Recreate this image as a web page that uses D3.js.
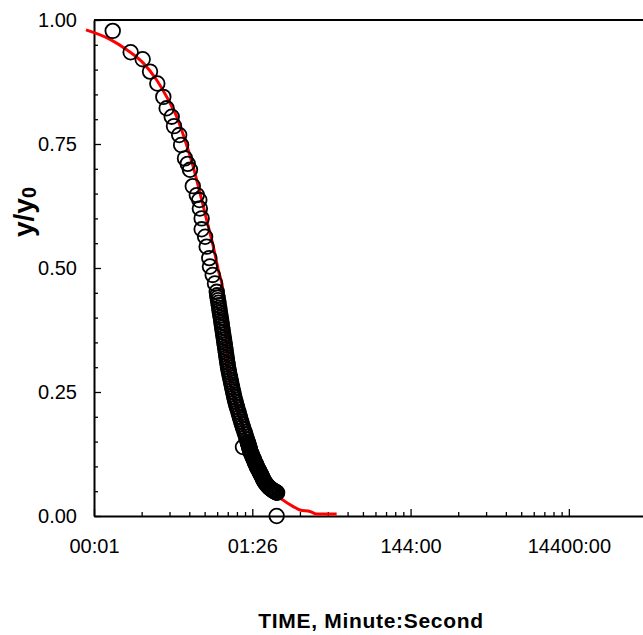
<!DOCTYPE html>
<html>
<head>
<meta charset="utf-8">
<title>y/y0 vs time</title>
<script src="https://d3js.org/d3.v7.min.js"></script>
<style>
  body { margin: 0; background: #fff; }
  svg { display: block; font-family: "Liberation Sans", Arial, sans-serif; }
</style>
</head>
<body>
<div id="chart"></div>
<script>
// time in seconds, value y/y0
var obsTime = [1.49, 2.51, 3.56, 4.41, 5.45, 6.49, 7.15, 8.29, 8.86, 10.3, 10.9, 12.2, 13.2, 14.1,
  15.3, 17.2, 18.5, 18.8, 19.8, 19.8, 21.9, 22.9, 24.7, 25.2, 27.3, 29.2, 30.7,
  31.1, 31.5, 31.9, 32.3, 32.6, 33.0, 33.3, 33.7, 34.1, 34.5, 34.9, 35.3, 35.6, 36.0, 36.4, 36.8,
  37.2, 37.6, 38.0, 38.4, 38.8, 39.2, 39.6, 40.0, 40.4, 40.9, 41.3, 41.8, 42.2, 42.6,
  43.2, 43.9, 44.5, 45.2, 45.9, 46.6, 47.3, 48.0, 48.8, 49.6, 50.4, 51.2, 52.1, 53.0, 54.1, 55.2,
  56.4, 57.6, 58.8, 60.0, 61.3, 62.6, 64.0, 65.5, 67.1, 68.8, 70.4, 72.0, 73.6, 75.3,
  76.1, 77, 77.9, 78.8, 79.5, 80.2, 81.1, 82, 83.2, 84.5, 85.7, 87, 88.5, 90, 91.2, 92.5, 94, 95.5,
  97, 98.5, 100.2, 102, 104, 106, 108, 110, 112, 114, 116, 118, 120, 122, 124.5, 127, 130, 133,
  136.5, 140, 144, 148, 152, 156, 160, 164, 168, 172, 175, 178, 65.9, 175.5];
var obsValue = [0.978, 0.935, 0.921, 0.896, 0.872, 0.845, 0.822, 0.805, 0.786, 0.768, 0.748, 0.721, 0.710, 0.698,
  0.665, 0.647, 0.637, 0.620, 0.600, 0.578, 0.563, 0.543, 0.520, 0.503, 0.486, 0.469, 0.452,
  0.445, 0.44, 0.435, 0.43, 0.425, 0.42, 0.415, 0.41, 0.405, 0.40, 0.395, 0.39, 0.385, 0.38, 0.375, 0.37,
  0.365, 0.36, 0.355, 0.35, 0.345, 0.34, 0.335, 0.33, 0.325, 0.32, 0.315, 0.31, 0.305, 0.30,
  0.295, 0.29, 0.285, 0.28, 0.275, 0.27, 0.265, 0.26, 0.255, 0.25, 0.245, 0.24, 0.235, 0.23, 0.225, 0.22,
  0.215, 0.21, 0.205, 0.20, 0.195, 0.19, 0.185, 0.18, 0.175, 0.17, 0.165, 0.16, 0.155, 0.15,
  0.1475, 0.145, 0.1425, 0.14, 0.1375, 0.135, 0.1325, 0.13, 0.1275, 0.125, 0.1225, 0.12, 0.1175, 0.115, 0.1125, 0.11, 0.1075, 0.105,
  0.1025, 0.10, 0.0975, 0.095, 0.0925, 0.09, 0.0875, 0.085, 0.0825, 0.08, 0.0775, 0.075, 0.0725, 0.07, 0.068, 0.066, 0.064, 0.062,
  0.06, 0.058, 0.0565, 0.055, 0.0535, 0.052, 0.051, 0.05, 0.049, 0.048, 0.0475, 0.047, 0.139, 0.0];

// fitted curve
var fitTime = [0.684, 1.38, 2.24, 3.63, 5.35, 7.16, 9.58, 12.2, 15.5, 18.9, 22.9, 27.8, 32.1, 37.2,
  42.6, 52.2, 69.9, 99, 125, 167, 203, 285, 346, 463, 563, 1006];
var fitValue = [0.98, 0.961, 0.94, 0.913, 0.879, 0.845, 0.805, 0.758, 0.704, 0.651, 0.597, 0.543, 0.496, 0.449,
  0.30, 0.234, 0.167, 0.099, 0.067, 0.045, 0.034, 0.019, 0.012, 0.009, 0.004, 0.004];

// axis ticks (seconds); 1e-5, 1e-3, 0.1, 10 days
var majorTicks = [0.864, 86.4, 8640, 864000];
var minorSteps = [4, 9, 16, 25, 36, 49, 64, 81];
var yMajor = [0, 0.25, 0.5, 0.75, 1.0];
var yMinor = [0.05, 0.1, 0.15, 0.2, 0.3, 0.35, 0.4, 0.45, 0.55, 0.6, 0.65, 0.7, 0.8, 0.85, 0.9, 0.95];

var W = 643, H = 635;
var pLeft = 94, pRight = 648, pTop = 20, pBottom = 516;

var svg = d3.select("#chart").append("svg").attr("width", W).attr("height", H);
svg.append("rect").attr("width", W).attr("height", H).attr("fill", "#fff");

var x = d3.scaleLog().domain([0.864, 8640000]).range([pLeft, pRight]);
var y = d3.scaleLinear().domain([0, 1]).range([pBottom, pTop]);

function mmss(s) {
  var m = Math.floor(s / 60), sec = Math.round(s - m * 60);
  return String(m).padStart(2, "0") + ":" + String(sec).padStart(2, "0");
}

var minorX = [];
majorTicks.slice(0, 3).forEach(function(t) {
  minorSteps.forEach(function(k) { minorX.push(t * k); });
});

// minor ticks
svg.append("g").attr("transform", "translate(0," + pBottom + ")")
  .call(d3.axisBottom(x).tickValues(minorX).tickSize(-4).tickSizeOuter(0).tickFormat(""))
  .call(function(g) { g.select(".domain").remove(); });
svg.append("g").attr("transform", "translate(" + pLeft + ",0)")
  .call(d3.axisLeft(y).tickValues(yMinor).tickSize(-4).tickSizeOuter(0).tickFormat(""))
  .call(function(g) { g.select(".domain").remove(); });

// major axes
svg.append("g").attr("transform", "translate(0," + pBottom + ")")
  .call(d3.axisBottom(x).tickValues(majorTicks).tickSize(-7).tickSizeOuter(0)
    .tickPadding(23).tickFormat(mmss));
svg.append("g").attr("transform", "translate(" + pLeft + ",0)")
  .call(d3.axisLeft(y).tickValues(yMajor).tickSize(-7).tickSizeOuter(0)
    .tickPadding(17).tickFormat(d3.format(".2f")));

svg.selectAll(".tick line").attr("stroke", "#000").attr("stroke-width", 1.3);
svg.selectAll(".domain").attr("stroke", "#000").attr("stroke-width", 2);
svg.selectAll(".tick text").attr("font-size", 20).attr("fill", "#000")
  .attr("font-family", "'Liberation Sans', Arial, sans-serif");

// frame top / right
svg.append("path")
  .attr("d", "M" + pLeft + "," + pTop + "H" + pRight + "V" + pBottom)
  .attr("fill", "none").attr("stroke", "#000").attr("stroke-width", 2);

// fitted line
var fit = fitTime.map(function(t, i) { return [t, fitValue[i]]; });
svg.append("path").datum(fit)
  .attr("fill", "none").attr("stroke", "#ff0000").attr("stroke-width", 3)
  .attr("d", d3.line().x(function(d) { return x(d[0]); }).y(function(d) { return y(d[1]); })
    .curve(d3.curveMonotoneX));

// observations
var obs = obsTime.map(function(t, i) { return [t, obsValue[i]]; });
svg.append("g").selectAll("circle").data(obs).enter().append("circle")
  .attr("cx", function(d) { return x(d[0]); })
  .attr("cy", function(d) { return y(d[1]); })
  .attr("r", 7.3)
  .attr("fill", "none").attr("stroke", "#000").attr("stroke-width", 1.8);

// titles
svg.append("text").attr("x", (pLeft + pRight) / 2).attr("y", 628)
  .attr("text-anchor", "middle").attr("font-size", 21).attr("font-weight", "bold")
  .attr("letter-spacing", 0.7).text("TIME, Minute:Second");

var yt = svg.append("text").attr("transform", "translate(33,212) rotate(-90)")
  .attr("text-anchor", "middle").attr("font-size", 28).attr("font-weight", "bold");
yt.append("tspan").text("y/y");
yt.append("tspan").attr("font-size", 20).attr("dy", 3).text("0");
</script>
</body>
</html>
